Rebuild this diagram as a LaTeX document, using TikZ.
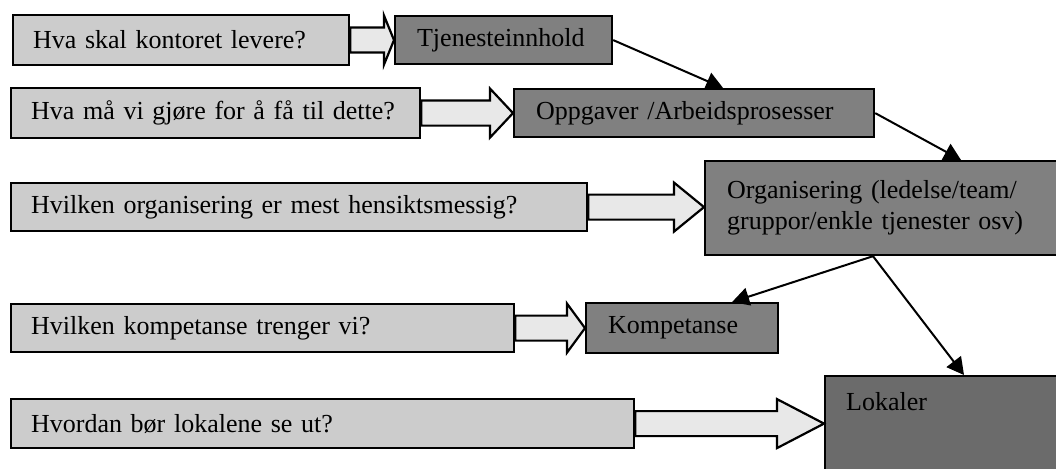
\documentclass[tikz,border=0pt]{standalone}
\usepackage{fontspec}
\setmainfont{Liberation Serif}
\usetikzlibrary{arrows.meta,calc}
\definecolor{qfill}{gray}{0.80}
\definecolor{afill}{gray}{0.91}
\definecolor{dfill}{gray}{0.50}
\definecolor{lfill}{gray}{0.42}
\tikzset{
  qbox/.style={draw, fill=qfill, line width=2.2pt, anchor=north west, align=left, inner xsep=20pt, inner ysep=0pt},
  dbox/.style={draw, fill=dfill, line width=2.2pt, anchor=north west, align=left, inner xsep=22pt, inner ysep=0pt},
  link/.style={line width=2pt, -{Triangle[length=17pt,width=18pt]}},
  fatarrow/.style={draw, fill=afill, line width=2.2pt, line join=miter}
}
\newcommand\fatarrow[3]{%
  \draw[fatarrow] let \p1=(#1.east), \p2=(#2.west) in
    (\x1,\y1+12.5pt) -- (\x2-#3,\y1+12.5pt) -- (\x2-#3,\y1+24.5pt) -- (\x2,\y1)
    -- (\x2-#3,\y1-24.5pt) -- (\x2-#3,\y1-12.5pt) -- (\x1,\y1-12.5pt) -- cycle;}
\begin{document}
\begin{tikzpicture}[x=1pt, y=-1pt, every node/.style={font=\fontsize{26}{31}\selectfont}]
\useasboundingbox (0,0) rectangle (1056,468);
\clip (0,0) rectangle (1056,468);
\node (q1) [qbox, text width=296pt, minimum height=50pt] at (12,14) {Hva skal kontoret levere?};
\node (q2) [qbox, text width=369pt, minimum height=50pt] at (10,87) {Hva må vi gjøre for å få til dette?};
\node (q3) [qbox, text width=536pt, minimum height=48pt] at (10,182) {Hvilken organisering er mest hensiktsmessig?};
\node (q4) [qbox, text width=463pt, minimum height=48pt] at (10,303) {Hvilken kompetanse trenger vi?};
\node (q5) [qbox, text width=583pt, minimum height=49pt] at (10,398) {Hvordan bør lokalene se ut?};
\node (tjeneste) [dbox, text width=173pt, minimum height=48pt] at (394,15) {Tjenesteinnhold};
\node (oppgaver) [dbox, text width=316pt, minimum height=48pt] at (513,88) {Oppgaver /Arbeidsprosesser};
\node (organisering) [dbox, text width=336pt, minimum height=94pt] at (704,160) {Organisering (ledelse/team/\\gruppor/enkle tjenester osv)};
\node (kompetanse) [dbox, text width=148pt, minimum height=50pt] at (585,302) {Kompetanse};
\node (lokaler) [dbox, fill=lfill, text width=216pt, minimum height=120pt,
  label={[anchor=north west, inner sep=0pt, xshift=22pt, yshift=-17pt]north west:Lokaler}] at (824,375) {};
\fatarrow{q1}{tjeneste}{10pt}
\fatarrow{q2}{oppgaver}{23pt}
\fatarrow{q3}{organisering}{30pt}
\fatarrow{q4}{kompetanse}{18pt}
\fatarrow{q5}{lokaler}{47pt}
\draw[link] (tjeneste.east) -- ([xshift=29pt]oppgaver.north);
\draw[link] (oppgaver.east) -- ([xshift=257pt]organisering.north west);
\draw[link] ([xshift=169pt]organisering.south west) -- ([xshift=50pt]kompetanse.north);
\draw[link] ([xshift=169pt]organisering.south west) -- ([xshift=140pt]lokaler.north west);
\end{tikzpicture}
\end{document}
